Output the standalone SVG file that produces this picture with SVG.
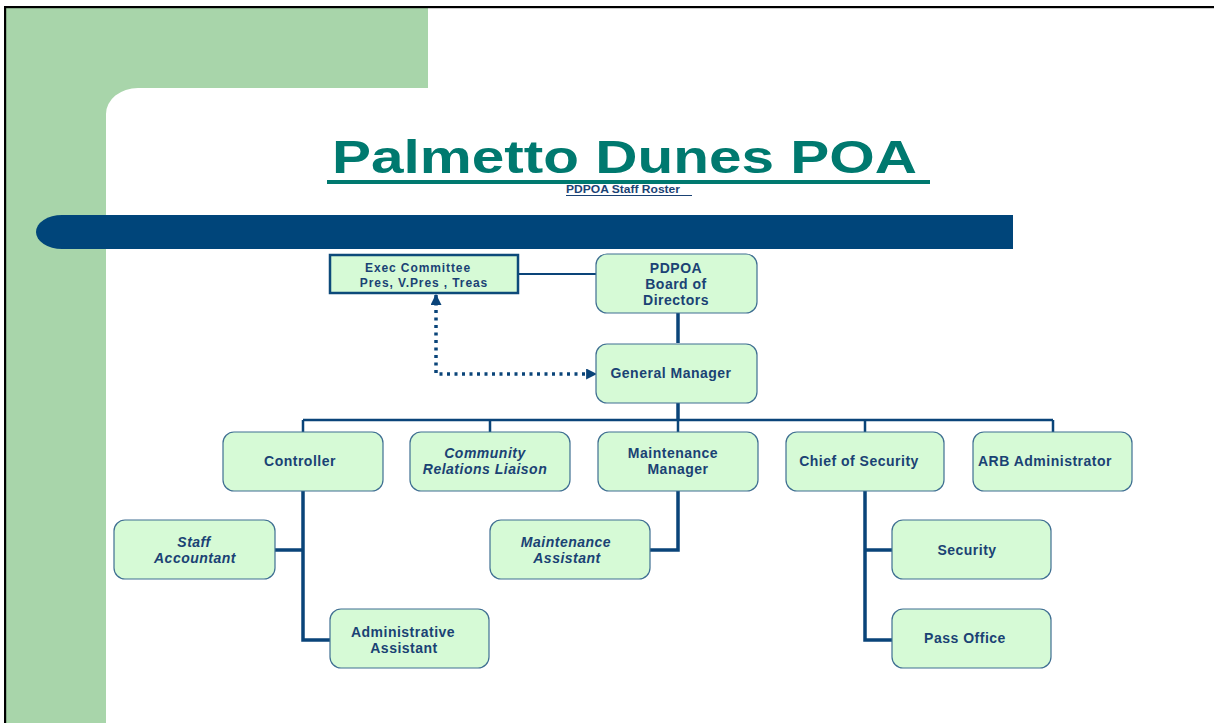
<svg xmlns="http://www.w3.org/2000/svg" width="1214" height="723" viewBox="0 0 1214 723">
<style>
.node{fill:#d6fad6;stroke:#3f6f92;stroke-width:1.2}
.t{font-family:"Liberation Sans",Arial,sans-serif;font-weight:bold;font-size:14px;fill:#1a4274;text-anchor:middle;letter-spacing:0.5px}
.i{font-style:italic}
.line{fill:none;stroke:#0a4479;stroke-width:3.5}
.bus{fill:none;stroke:#0a4479;stroke-width:2.5}
</style>
<defs>
<marker id="ah" viewBox="0 0 10 10" refX="9" refY="5" markerWidth="11" markerHeight="11" markerUnits="userSpaceOnUse" orient="auto-start-reverse">
<path d="M0 0 L10 5 L0 10 Z" fill="#0a4479"/>
</marker>
</defs>
<rect width="1214" height="723" fill="#ffffff"/>
<path d="M6 8 H428 V88 H138 A32 26 0 0 0 106 114 V723 H6 Z" fill="#a8d5aa"/>
<rect x="4" y="6" width="1210" height="2.2" fill="#000"/>
<rect x="4" y="6" width="2.2" height="717" fill="#000"/>
<path d="M1013 215 H62 A26 17 0 0 0 62 249 H1013 Z" fill="#00457a"/>
<text x="332" y="173" font-family="Liberation Sans,Arial,sans-serif" font-weight="bold" font-size="46" fill="#00796f" textLength="585" lengthAdjust="spacingAndGlyphs">Palmetto Dunes POA</text>
<rect x="327" y="180" width="603" height="4" fill="#00796f"/>
<text x="566" y="193" font-family="Liberation Sans,Arial,sans-serif" font-weight="bold" font-size="10" fill="#1a4274" textLength="114" lengthAdjust="spacingAndGlyphs">PDPOA Staff Roster</text>
<rect x="566" y="195" width="126" height="1" fill="#1a4274"/>
<g id="connectors">
<path class="bus" d="M518 274 H596" style="stroke-width:1.8"/>
<path class="line" d="M678 313 V343"/>
<path class="line" d="M678 402 V420"/>
<path class="bus" d="M303 420 H1053 M303 420 V432 M490 420 V432 M678 420 V432 M865 420 V432 M1053 420 V432"/>
<path class="line" d="M303 491 V640 H330 M303 550 H275"/>
<path class="line" d="M678 491 V550 H650"/>
<path class="line" d="M865 491 V640 H892 M865 550 H892"/>
<path d="M436 295 V374 H596" fill="none" stroke="#0a4479" stroke-width="3.5" stroke-dasharray="3 4.5" marker-start="url(#ah)" marker-end="url(#ah)"/>
</g>
<g id="exec">
<rect x="330" y="255" width="188" height="38" fill="#d6fad6" stroke="#0d4a7a" stroke-width="2.5"/>
<text class="t" x="418" y="272" style="font-size:12px;letter-spacing:0.9px">Exec Committee</text>
<text class="t" x="424" y="287" style="font-size:12px;letter-spacing:0.9px">Pres, V.Pres , Treas</text>
</g>
<g id="board">
<rect class="node" x="596" y="254" width="161" height="59" rx="11"/>
<text class="t" x="676" y="273">PDPOA</text>
<text class="t" x="676" y="289">Board of</text>
<text class="t" x="676" y="305">Directors</text>
</g>
<g id="gm">
<rect class="node" x="596" y="344" width="161" height="59" rx="11"/>
<text class="t" x="671" y="378">General Manager</text>
</g>
<g id="controller">
<rect class="node" x="223" y="432" width="160" height="59" rx="11"/>
<text class="t" x="300" y="466">Controller</text>
</g>
<g id="crl">
<rect class="node" x="410" y="432" width="160" height="59" rx="11"/>
<text class="t i" x="485" y="458">Community</text>
<text class="t i" x="485" y="474">Relations Liaison</text>
</g>
<g id="mm">
<rect class="node" x="598" y="432" width="160" height="59" rx="11"/>
<text class="t" x="673" y="458">Maintenance</text>
<text class="t" x="678" y="474">Manager</text>
</g>
<g id="chief">
<rect class="node" x="786" y="432" width="158" height="59" rx="11"/>
<text class="t" x="859" y="466">Chief of Security</text>
</g>
<g id="arb">
<rect class="node" x="973" y="432" width="159" height="59" rx="11"/>
<text class="t" x="1045" y="466">ARB Administrator</text>
</g>
<g id="staff">
<rect class="node" x="114" y="520" width="161" height="59" rx="11"/>
<text class="t i" x="194" y="547">Staff</text>
<text class="t i" x="195" y="563">Accountant</text>
</g>
<g id="ma">
<rect class="node" x="490" y="520" width="160" height="59" rx="11"/>
<text class="t i" x="566" y="547">Maintenance</text>
<text class="t i" x="567" y="563">Assistant</text>
</g>
<g id="security">
<rect class="node" x="892" y="520" width="159" height="59" rx="11"/>
<text class="t" x="967" y="555">Security</text>
</g>
<g id="admin">
<rect class="node" x="330" y="609" width="159" height="59" rx="11"/>
<text class="t" x="403" y="637">Administrative</text>
<text class="t" x="404" y="653">Assistant</text>
</g>
<g id="pass">
<rect class="node" x="892" y="609" width="159" height="59" rx="11"/>
<text class="t" x="965" y="643">Pass Office</text>
</g>
</svg>
